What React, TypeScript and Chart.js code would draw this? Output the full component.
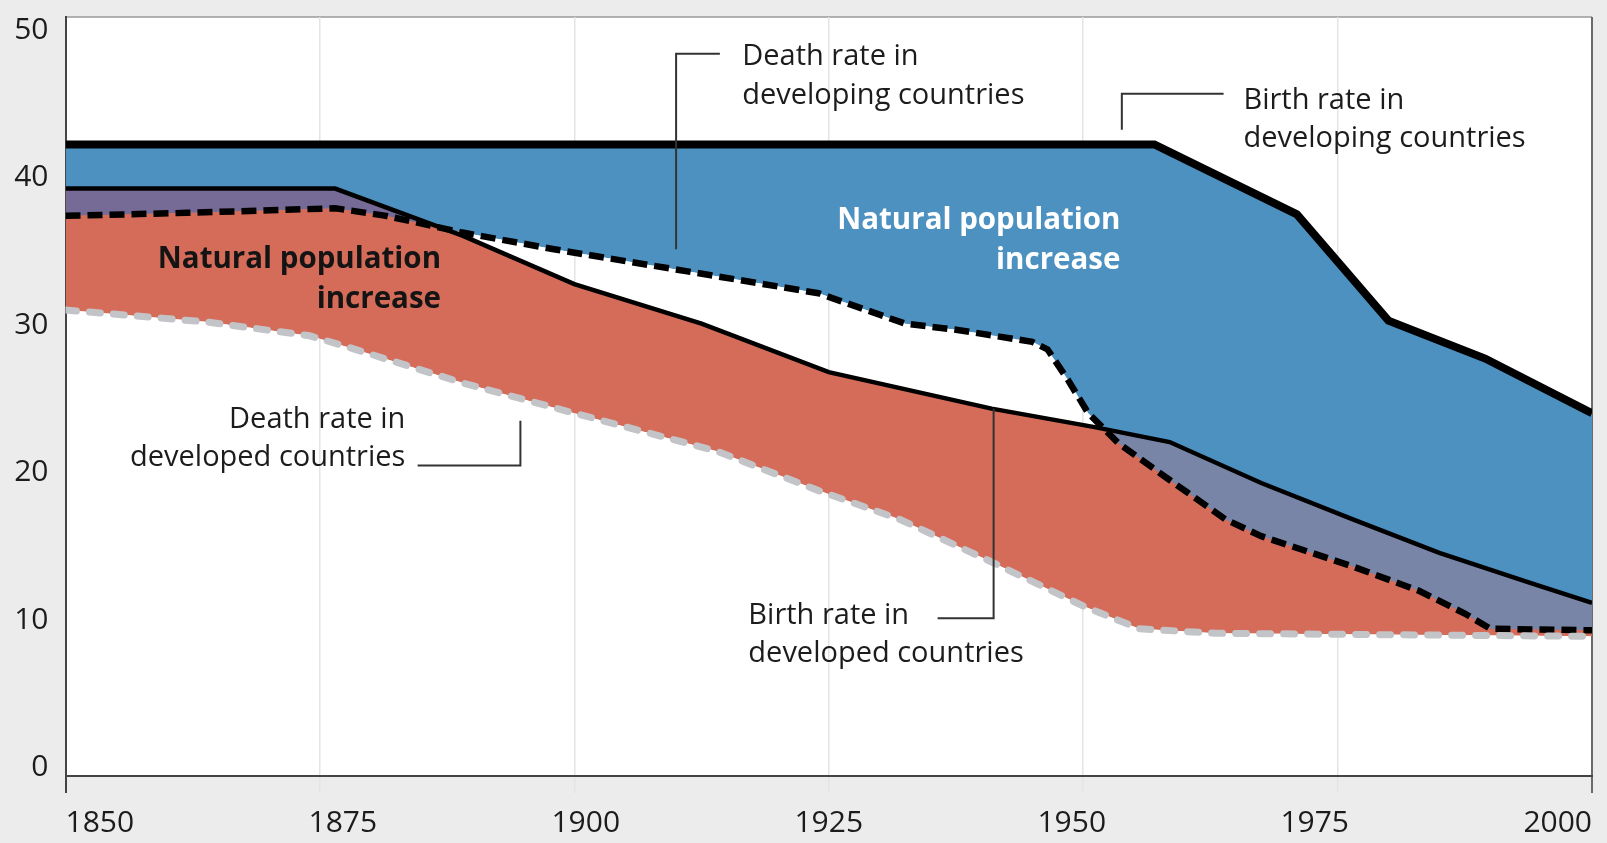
import React, { useEffect, useRef } from 'react';
import { Chart, registerables } from 'chart.js';

Chart.register(...registerables);

// ---- data ----
const birthDevelopingYears = [1850, 1957, 1971, 1980, 1989.5, 2000];
const birthDevelopingRates = [41.6, 41.6, 37.0, 30.0, 27.5, 23.9];

const deathDevelopingYears = [1850, 1862, 1876.5, 1881.5, 1889, 1898, 1911.5, 1924, 1932.5, 1937.5, 1945, 1946.5, 1948.5, 1950.5, 1953.5, 1958.5, 1964, 1967.5, 1976.5, 1983, 1987.5, 1990, 2000];
const deathDevelopingRates = [36.9, 37.1, 37.4, 36.9, 35.8, 34.7, 33.2, 31.8, 29.8, 29.4, 28.6, 28.1, 26.1, 23.9, 21.9, 19.5, 16.9, 15.8, 13.8, 12.2, 10.7, 9.7, 9.6];

const birthDevelopedYears = [1850, 1876.5, 1889, 1900, 1912.5, 1925, 1941, 1951, 1958.5, 1967.5, 1976.5, 1985, 1994, 2000];
const birthDevelopedRates = [38.7, 38.7, 35.6, 32.4, 29.8, 26.6, 24.2, 23.0, 22.0, 19.3, 16.9, 14.7, 12.7, 11.4];

const deathDevelopedYears = [1850, 1864, 1874, 1878, 1889, 1900, 1914, 1924, 1932, 1941, 1950, 1955.5, 1963, 2000];
const deathDevelopedRates = [30.7, 29.9, 29.0, 28.2, 25.9, 23.9, 21.4, 18.8, 16.9, 14.1, 11.2, 9.7, 9.4, 9.2];

const xTickLabels = ['1850', '1875', '1900', '1925', '1950', '1975', '2000'];
const yTickLabels = ['0', '10', '20', '30', '40', '50'];

const seriesLabels = [
  'Birth rate in developing countries',
  'Death rate in developing countries',
  'Birth rate in developed countries',
  'Death rate in developed countries',
];

// annotation labels (text + anchor in data units)
const annotationLines = [
  ['Death rate in', 'developing countries'],
  ['Birth rate in', 'developing countries'],
  ['Death rate in', 'developed countries'],
  ['Birth rate in', 'developed countries'],
];
const annotationYears = [1916.5, 1965.75, 1883.4, 1917.1];
const annotationRates = [46.82, 43.95, 22.95, 10.02];
const annotationAlign: CanvasTextAlign[] = ['left', 'left', 'right', 'left'];

const leaderPaths = [
  [[1914.3, 47.58], [1910.0, 47.58], [1910.0, 34.7]],
  [[1963.8, 44.94], [1953.8, 44.94], [1953.8, 42.58]],
  [[1884.6, 20.45], [1894.7, 20.45], [1894.7, 23.4]],
  [[1935.7, 10.4], [1941.2, 10.4], [1941.2, 24.2]],
];

const increaseLines = ['Natural population', 'increase'];
const increaseYears = [1886.9, 1953.66];
const increaseRates = [33.47, 36.04];
const increaseColors = ['#141414', '#ffffff'];

// ---- styles ----
const BLUE = '#4d91c1';
const RED = '#d56c5a';
const PURPLE_EARLY = '#766a96';
const PURPLE_LATE = '#7885a6';
const PAGE = '#ececec';
const TEXT = '#1c1c1c';
const FONT = '"Open Sans", "Noto Sans", sans-serif';

const zip = (xs: number[], ys: number[]) => xs.map((x, i) => ({ x, y: ys[i] }));

const bgPlugin = {
  id: 'bg',
  beforeDraw(chart: any) {
    const { ctx, chartArea: a } = chart;
    ctx.save();
    ctx.fillStyle = PAGE;
    ctx.fillRect(0, 0, chart.width, chart.height);
    ctx.fillStyle = '#ffffff';
    ctx.fillRect(a.left, a.top, a.right - a.left, a.bottom - a.top);
    ctx.strokeStyle = '#9a9a9a';
    ctx.lineWidth = 1.5;
    ctx.beginPath();
    ctx.moveTo(a.left, a.top);
    ctx.lineTo(a.right, a.top);
    ctx.stroke();
    ctx.restore();
  },
};

const labelsPlugin = {
  id: 'labels',
  afterDraw(chart: any) {
    const { ctx, chartArea: a } = chart;
    const xs = chart.scales.x;
    const ys = chart.scales.y;
    ctx.save();

    // tick labels: first/last flush with the axis ends, the rest spread evenly
    ctx.font = `30px ${FONT}`;
    ctx.fillStyle = TEXT;
    ctx.textAlign = 'left';
    ctx.textBaseline = 'alphabetic';
    const nX = xTickLabels.length;
    xTickLabels.forEach((t, i) => {
      const w = ctx.measureText(t).width;
      const p0 = xs.getPixelForValue(Number(xTickLabels[0]));
      const p1 = xs.getPixelForValue(Number(xTickLabels[nX - 1]));
      const x = p0 + (p1 - p0 - w) * (i / (nX - 1));
      ctx.fillText(t, x, a.bottom + 56);
    });
    const capH = 21.5;
    ctx.textAlign = 'right';
    const nY = yTickLabels.length;
    yTickLabels.forEach((t, i) => {
      const pBottom = ys.getPixelForValue(Number(yTickLabels[0]));
      const pTop = ys.getPixelForValue(Number(yTickLabels[nY - 1]));
      const base = pBottom - (pBottom - pTop - capH) * (i / (nY - 1));
      ctx.fillText(t, a.left - 17, base);
    });

    // leader lines
    ctx.strokeStyle = '#333333';
    ctx.lineWidth = 2;
    leaderPaths.forEach((path) => {
      ctx.beginPath();
      path.forEach(([yr, v], i) => {
        const px = xs.getPixelForValue(yr);
        const py = ys.getPixelForValue(v);
        if (i === 0) ctx.moveTo(px, py);
        else ctx.lineTo(px, py);
      });
      ctx.stroke();
    });

    // annotation texts
    ctx.font = `29px ${FONT}`;
    ctx.fillStyle = TEXT;
    annotationLines.forEach((lines, k) => {
      ctx.textAlign = annotationAlign[k];
      const px = xs.getPixelForValue(annotationYears[k]);
      const py = ys.getPixelForValue(annotationRates[k]);
      lines.forEach((l, j) => ctx.fillText(l, px, py + j * 38.5));
    });

    // bold "Natural population increase"
    ctx.font = `bold 29.5px ${FONT}`;
    ctx.textAlign = 'right';
    increaseYears.forEach((yr, k) => {
      ctx.fillStyle = increaseColors[k];
      const px = xs.getPixelForValue(yr);
      const py = ys.getPixelForValue(increaseRates[k]);
      increaseLines.forEach((l, j) => ctx.fillText(l, px, py + j * 40));
    });

    ctx.restore();
  },
};

export default function App() {
  const ref = useRef<HTMLCanvasElement | null>(null);

  useEffect(() => {
    document.body.style.margin = '0';
    document.body.style.background = PAGE;
    const canvas = ref.current!;
    const birthDed = zip(birthDevelopedYears, birthDevelopedRates);
    const earlyOverlap = birthDed.filter((p) => p.x <= 1890);
    const lateOverlap = birthDed.filter((p) => p.x >= 1940);

    const edge = (ctx: any) => ctx.index === 0 || ctx.index === xTickLabels.length - 1;

    const chart = new Chart(canvas, {
      type: 'line',
      data: {
        datasets: [
          {
            label: seriesLabels[0],
            data: zip(birthDevelopingYears, birthDevelopingRates),
            borderColor: '#000000',
            borderWidth: 8,
            fill: { target: 1, above: BLUE, below: 'rgba(0,0,0,0)' },
            order: 3,
          },
          {
            label: seriesLabels[1],
            data: zip(deathDevelopingYears, deathDevelopingRates),
            borderColor: '#000000',
            borderWidth: 6.5,
            borderDash: [15, 7],
            fill: false,
            order: 4,
          },
          {
            label: seriesLabels[2],
            data: birthDed,
            borderColor: '#000000',
            borderWidth: 4.5,
            fill: { target: 3, above: RED, below: 'rgba(0,0,0,0)' },
            order: 5,
          },
          {
            label: seriesLabels[3],
            data: zip(deathDevelopedYears, deathDevelopedRates),
            borderColor: '#c2c4c8',
            borderWidth: 7,
            borderDash: [11, 13],
            borderCapStyle: 'round',
            fill: false,
            order: 2,
          },
          {
            label: 'overlap early',
            data: earlyOverlap,
            borderColor: 'rgba(0,0,0,0)',
            borderWidth: 0,
            fill: { target: 1, above: PURPLE_EARLY, below: 'rgba(0,0,0,0)' },
            order: 0,
          },
          {
            label: 'overlap late',
            data: lateOverlap,
            borderColor: 'rgba(0,0,0,0)',
            borderWidth: 0,
            fill: { target: 1, above: PURPLE_LATE, below: 'rgba(0,0,0,0)' },
            order: 1,
          },
        ],
      },
      options: {
        responsive: false,
        animation: false,
        events: [],
        layout: { padding: { top: 17, right: 15, left: 0, bottom: 0 } },
        elements: {
          point: { radius: 0 },
          line: { tension: 0, borderCapStyle: 'butt', borderJoinStyle: 'miter' },
        },
        plugins: {
          legend: { display: false },
          tooltip: { enabled: false },
          filler: { drawTime: 'beforeDatasetsDraw', propagate: false },
        },
        scales: {
          x: {
            type: 'linear',
            min: 1850,
            max: 2000,
            ticks: { stepSize: 25, display: false },
            grid: {
              color: (c: any) => (c.index === xTickLabels.length - 1 ? '#6a6a6a' : edge(c) ? '#444444' : '#e4e4e4'),
              lineWidth: (c: any) => (edge(c) ? 2 : 1.5),
              tickLength: 17,
              drawTicks: true,
            },
            border: { display: true, color: '#444444', width: 2 },
            afterFit: (s: any) => {
              s.height = 67;
            },
          },
          y: {
            min: 0,
            max: 50,
            ticks: { stepSize: 10, display: false },
            grid: { display: false, drawTicks: false },
            border: { display: true, color: '#444444', width: 2 },
            afterFit: (s: any) => {
              s.width = 65.5;
            },
          },
        },
      },
      plugins: [bgPlugin, labelsPlugin],
    } as any);

    return () => chart.destroy();
  }, []);

  return (
    <canvas
      ref={ref}
      width={1607}
      height={843}
      style={{ display: 'block', width: '1607px', height: '843px' }}
    />
  );
}
